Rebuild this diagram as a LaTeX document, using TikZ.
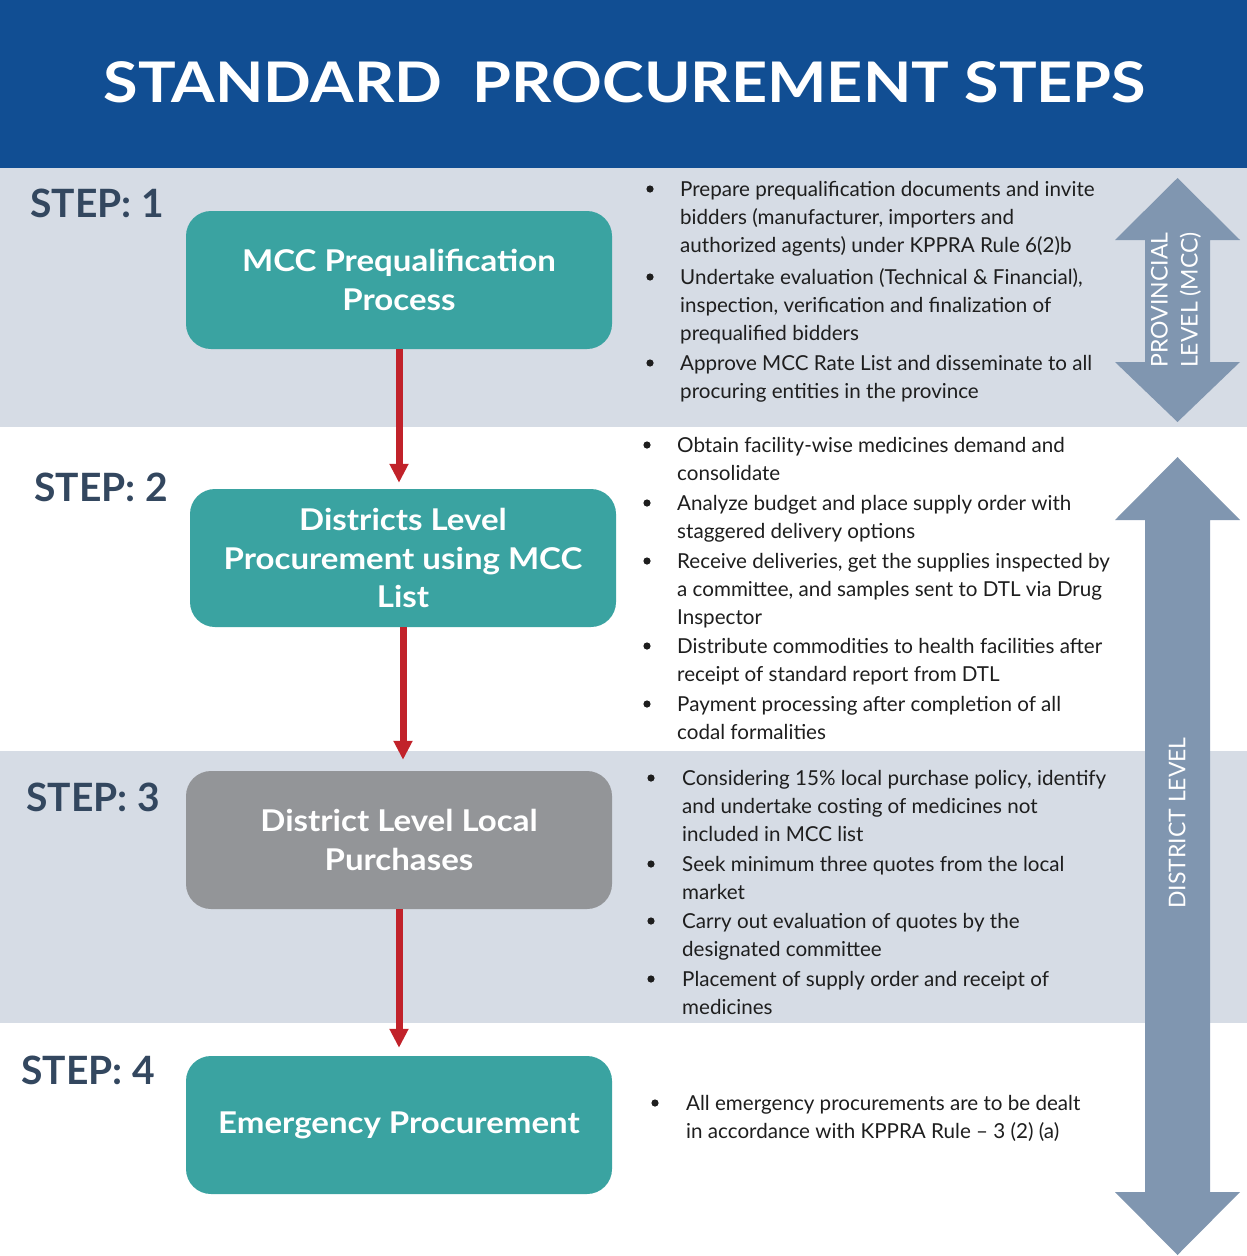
\documentclass[tikz,border=0pt]{standalone}
\usepackage{fontspec}
\setmainfont{Lato}
\newfontfamily\boxfont{Lato}[FakeStretch=1.1]
\usetikzlibrary{arrows.meta}

\definecolor{titleblue}{RGB}{17,78,147}
\definecolor{bandgray}{RGB}{214,220,229}
\definecolor{stepteal}{RGB}{58,163,161}
\definecolor{stepgray}{RGB}{147,149,152}
\definecolor{steplabel}{RGB}{51,71,95}
\definecolor{levelblue}{RGB}{128,150,176}
\definecolor{flowred}{RGB}{193,34,42}
\definecolor{bodytext}{RGB}{30,30,30}

% one bullet item: name, bullet x, text x, first baseline y, lines
\newcommand\bulletitem[5]{%
  \fill[bodytext] (#2,#4-7) circle (3.6);
  \node[bul, anchor=north west] (#1) at (#3,#4-19.8) {\strut #5};
}

\tikzset{
  stepbox/.style={draw=none, fill=stepteal, rounded corners=25pt,
    minimum width=426pt, minimum height=138pt, inner sep=0pt,
    align=center, text=white, font=\boxfont\fontsize{30}{38.5}\selectfont\bfseries},
  steplbl/.style={anchor=base west, inner sep=0pt, text=steplabel,
    font=\fontsize{39}{44}\selectfont\bfseries},
  bul/.style={inner sep=0pt, align=left, text=bodytext,
    font=\fontsize{20.6}{28.3}\selectfont},
  flow/.style={draw=flowred, line width=7pt,
    -{Triangle[length=19pt,width=18pt]}},
  leveltext/.style={rotate=90, text=white, align=center, inner sep=0pt,
    font=\fontsize{23}{30}\selectfont},
}

\begin{document}
\begin{tikzpicture}[x=1pt,y=-1pt]
\useasboundingbox (0,0) rectangle (1247,1256);

% background bands
\fill[white] (0,0) rectangle (1247,1256);
\fill[titleblue] (0,0) rectangle (1247,168);
\fill[bandgray] (0,168) rectangle (1247,427);
\fill[bandgray] (0,751) rectangle (1247,1023);

% title
\node[text=white, inner sep=0pt, font=\fontsize{56}{60}\selectfont\bfseries]
  (title) at (625,82) {\scalebox{1.123}[1]{STANDARD\ \ PROCUREMENT STEPS}};

% step labels
\node[steplbl] (s1) at (30,217) {STEP: 1};
\node[steplbl] (s2) at (34,501) {STEP: 2};
\node[steplbl] (s3) at (26,811) {STEP: 3};
\node[steplbl] (s4) at (21,1084) {STEP: 4};

% step boxes
\node[stepbox] (box1) at (399,280) {MCC Prequalification\\Process};
\node[stepbox] (box2) at (403,558) {Districts Level\\Procurement using MCC\\List};
\node[stepbox, fill=stepgray] (box3) at (399,840) {District Level Local\\Purchases};
\node[stepbox] (box4) at (399,1125) {Emergency Procurement};

% flow connectors
\draw[flow, shorten >=6pt] (box1.south) -- (box1.south |- box2.north);
\draw[flow, shorten >=11pt] (box2.south) -- (box2.south |- box3.north);
\draw[flow, shorten >=8pt] (box3.south) -- (box3.south |- box4.north);

% level arrows
\fill[levelblue] (1177.5,178) -- (1240,240) -- (1210,240) -- (1210,362)
  -- (1240,362) -- (1177.5,422) -- (1115,362) -- (1145,362) -- (1145,240)
  -- (1115,240) -- cycle;
\node[leveltext] (prov) at (1176,300) {PROVINCIAL\\LEVEL (MCC)};

\fill[levelblue] (1177.5,457) -- (1240,520) -- (1210,520) -- (1210,1192)
  -- (1240,1192) -- (1177.5,1255) -- (1115,1192) -- (1145,1192) -- (1145,520)
  -- (1115,520) -- cycle;
\node[leveltext] (dist) at (1177,823) {DISTRICT LEVEL};

% step 1 details
\bulletitem{a1}{650}{680}{196}{Prepare prequalification documents and invite\\bidders (manufacturer, importers and\\authorized agents) under KPPRA Rule 6(2)b}
\bulletitem{a2}{650}{680}{284}{Undertake evaluation (Technical \& Financial),\\inspection, verification and finalization of\\prequalified bidders}
\bulletitem{a3}{650}{680}{370}{Approve MCC Rate List and disseminate to all\\procuring entities in the province}

% step 2 details
\bulletitem{b1}{647}{677}{452}{Obtain facility-wise medicines demand and\\consolidate}
\bulletitem{b2}{647}{677}{510}{Analyze budget and place supply order with\\staggered delivery options}
\bulletitem{b3}{647}{677}{568}{Receive deliveries, get the supplies inspected by\\a committee, and samples sent to DTL via Drug\\Inspector}
\bulletitem{b4}{647}{677}{653}{Distribute commodities to health facilities after\\receipt of standard report from DTL}
\bulletitem{b5}{647}{677}{711}{Payment processing after completion of all\\codal formalities}

% step 3 details
\bulletitem{c1}{651}{682}{785}{Considering 15\% local purchase policy, identify\\and undertake costing of medicines not\\included in MCC list}
\bulletitem{c2}{651}{682}{871}{Seek minimum three quotes from the local\\market}
\bulletitem{c3}{651}{682}{928}{Carry out evaluation of quotes by the\\designated committee}
\bulletitem{c4}{651}{682}{986}{Placement of supply order and receipt of\\medicines}

% step 4 details
\bulletitem{d1}{655}{686}{1110}{All emergency procurements are to be dealt\\in accordance with KPPRA Rule -- 3 (2) (a)}

\end{tikzpicture}
\end{document}
